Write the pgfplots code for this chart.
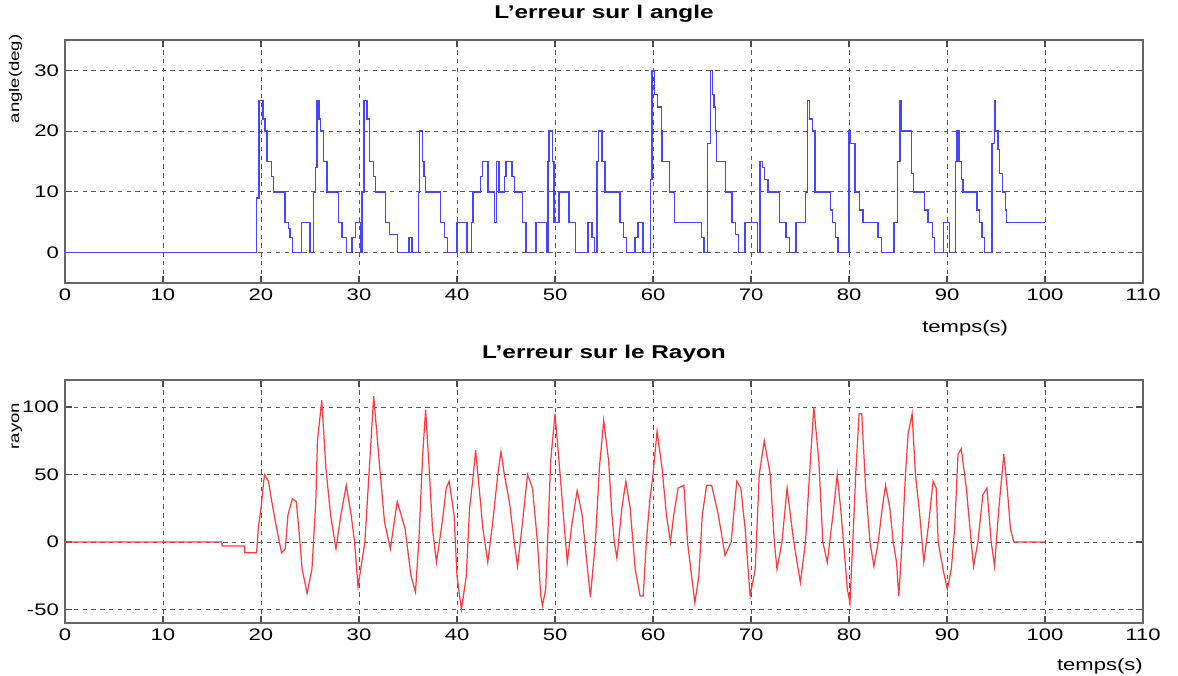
\documentclass[border=0pt]{standalone}
\usepackage{fontspec}
\setmainfont{Liberation Sans}[FakeStretch=1.32]
\usepackage{pgfplots}
\pgfplotsset{compat=1.18}
\definecolor{lineblue}{RGB}{70,70,255}
\definecolor{linered}{RGB}{255,60,60}

% matlab-like subplot style, 1px = 0.02cm
\pgfplotsset{matlab/.style={
    scale only axis,
    width=21.56cm, height=4.86cm,
    xmin=0, xmax=110, xtick={0,10,...,110},
    tick pos=both, xticklabel pos=lower, yticklabel pos=left,
    tick align=inside, major tick length=4pt,
    tick style={black!70, line width=0.6pt},
    grid=major,
    grid style={black!65, dash pattern=on 2.5pt off 2.5pt, line width=0.45pt},
    axis line style={black!60, line width=0.9pt},
    tick label style={font=\fontsize{9.5}{11}\selectfont},
    /pgf/number format/assume math mode=true,
    title style={font=\fontsize{10.5}{12}\selectfont\bfseries, at={(rel axis cs:0.5,1)}, anchor=south, yshift=0.02cm},
    xlabel style={font=\fontsize{9.5}{11}\selectfont, anchor=north},
    ylabel style={font=\footnotesize, rotate=0, anchor=south},
    clip=true,
}}

\begin{document}
\begin{tikzpicture}
\path[use as bounding box] (-1.3cm,-7.84cm) rectangle (22.26cm,5.66cm);
\begin{axis}[matlab,
    ymin=-5, ymax=35, ytick={0,10,20,30},
    title={L'erreur sur l angle},
    xlabel={temps(s)},
    xlabel style={at={(rel axis cs:0.835,0)}, yshift=-0.62cm},
    ylabel={angle(deg)},
    ylabel style={at={(rel axis cs:-0.034,0.84)}},
]
\addplot[const plot, lineblue, line width=0.8pt] coordinates {
(0,0) (19.56,9) (19.8,25) (20.2,22) (20.4,20) (20.6,15) (21.1,12.5) (21.26,10)
(22.46,5) (22.8,4) (22.97,2.5) (23.2,0) (24.16,5) (25.0,0) (25.36,10) (25.55,14)
(25.7,25) (25.9,22) (26.1,20) (26.38,15) (26.72,10) (27.92,5) (28.26,2.5) (28.7,0)
(29.28,2.5) (29.62,5) (30.14,0) (30.3,10) (30.5,25) (30.8,22) (31.1,15) (31.5,12.5)
(31.67,10) (32.7,5) (33.1,3) (33.9,0) (35.1,2.5) (35.4,0) (36.1,10) (36.2,20)
(36.45,15) (36.65,12.5) (36.8,10) (38.3,5) (38.7,2.5) (39.0,0) (40.0,5) (41.0,0)
(41.5,5) (41.65,10) (42.39,12.5) (42.6,15) (43.17,10) (43.84,5) (44.0,15) (44.3,10)
(44.85,12.5) (45.02,15) (45.6,12.5) (45.86,10) (46.7,5) (47.04,0) (48.05,5) (49.12,0)
(49.3,15) (49.4,20) (49.73,15) (49.9,5) (50.4,10) (51.41,5) (52.09,0) (53.37,5)
(53.77,2.5) (54.04,0) (54.28,15) (54.45,20) (54.78,15) (55.12,10) (56.63,5) (56.97,2.5)
(57.3,0) (58.15,2.5) (58.48,5) (58.99,0) (59.76,12) (59.9,30) (60.17,26) (60.44,24)
(60.84,20) (60.9,15) (61.68,10) (62.19,5) (64.95,2.5) (65.22,0) (65.55,18) (65.89,30)
(66.05,26) (66.22,24) (66.4,20) (66.49,15) (67.39,10) (68.06,5) (68.39,3) (68.73,0)
(69.4,5) (70.64,0) (70.9,15) (71.17,14) (71.4,12) (71.74,10) (72.91,5) (73.58,2.5)
(73.91,0) (74.58,5) (75.59,10) (75.75,25) (75.99,22) (76.25,20) (76.52,10) (78.09,7)
(78.33,5) (78.6,2.5) (78.86,0) (80.0,20) (80.1,18) (80.6,10) (81.1,7) (81.44,5)
(82.94,2.5) (83.34,0) (84.6,5) (84.95,15) (85.22,25) (85.35,20) (86.37,13) (86.61,10)
(87.73,7) (88.07,5) (88.51,2.5) (88.75,0) (89.66,5) (90.27,0) (90.88,15) (91.02,20)
(91.22,15) (91.46,12) (91.63,10) (93.05,7) (93.32,5) (93.59,2.5) (93.83,0) (94.61,18)
(94.85,25) (94.95,20) (95.19,17) (95.36,13) (95.69,10) (95.97,7) (96.1,5) (100,5)
};
\end{axis}

\begin{axis}[matlab,
    at={(0,-6.80cm)},
    ymin=-60, ymax=120, ytick={-50,0,50,100},
    title={L'erreur sur le Rayon},
    xlabel={temps(s)},
    xlabel style={at={(rel axis cs:0.96,0)}, yshift=-0.58cm},
    ylabel={rayon},
    ylabel style={at={(rel axis cs:-0.034,0.81)}},
]
\addplot[linered, line width=0.7pt] coordinates {
(0,0) (16.0,0) (16.03,-3) (18.34,-3) (18.35,-8) (19.55,-8) (19.72,10) (20.0,25)
(20.35,50) (20.76,45) (21.1,30) (21.6,10) (22.1,-8) (22.48,-5) (22.75,20) (23.2,32)
(23.6,30) (23.86,10) (24.2,-20) (24.7,-38) (25.2,-20) (25.59,30) (25.76,75) (26.2,105)
(26.62,55) (27.1,20) (27.65,-5) (28.15,20) (28.7,42) (29.2,20) (29.55,0) (29.9,-33)
(30.6,0) (31.1,60) (31.5,108) (32.0,65) (32.6,15) (33.2,-5) (33.9,30) (34.7,10)
(35.3,-25) (35.76,-37) (36.1,0) (36.5,65) (36.8,98) (37.15,55) (37.5,10) (37.9,-15)
(38.5,15) (38.9,40) (39.2,45) (39.7,20) (40.0,-25) (40.45,-50) (40.95,-25) (41.28,25)
(41.6,45) (41.9,68) (42.2,45) (42.64,10) (43.14,-15) (43.65,15) (44.16,50) (44.49,67)
(44.83,50) (45.34,30) (45.84,0) (46.18,-18) (46.69,15) (47.2,50) (47.7,40) (48.21,0)
(48.55,-40) (48.72,-47) (49.05,-35) (49.56,60) (50.0,95) (50.41,60) (50.91,15) (51.25,-15)
(51.76,15) (52.26,38) (52.77,20) (53.11,-5) (53.61,-41) (54.12,0) (54.53,55) (54.97,90)
(55.47,60) (55.81,20) (56.05,0) (56.32,-12) (56.82,25) (57.23,45) (57.67,25) (58.18,-20)
(58.68,-40) (59.0,-40) (59.32,0) (59.66,30) (60.0,50) (60.41,82) (60.92,55) (61.37,20)
(61.78,0) (62.12,20) (62.56,40) (63.15,42) (63.52,0) (63.93,-25) (64.27,-45) (64.68,-25)
(65.03,20) (65.47,42) (65.98,42) (66.67,20) (67.35,-10) (67.97,0) (68.55,45) (68.96,40)
(69.4,10) (69.91,-40) (70.43,-20) (70.84,50) (71.35,75) (71.97,50) (72.38,0) (72.65,-20)
(73.16,0) (73.68,40) (74.36,0) (75.04,-30) (75.56,0) (75.97,50) (76.41,100) (76.92,60)
(77.33,0) (77.78,-15) (78.36,20) (78.8,50) (79.21,20) (79.83,-35) (80.1,-45) (80.51,20)
(80.68,50) (81.03,95) (81.3,95) (81.69,41) (82.14,0) (82.54,-18) (82.98,0) (83.39,25)
(83.73,42) (84.17,25) (84.51,0) (84.85,-15) (85.08,-40) (85.42,0) (85.76,50) (86.03,80)
(86.44,95) (86.78,50) (87.22,20) (87.63,-15) (88.07,10) (88.58,45) (88.9,40) (89.1,0)
(89.59,-20) (90.03,-35) (90.44,-20) (90.78,10) (91.12,65) (91.46,69) (91.97,40) (92.47,0)
(92.71,-18) (93.15,0) (93.66,35) (94.07,40) (94.51,0) (94.85,-18) (95.29,25) (95.8,65)
(96.14,40) (96.47,10) (96.81,0) (100,0)
};
\end{axis}
\end{tikzpicture}
\end{document}
